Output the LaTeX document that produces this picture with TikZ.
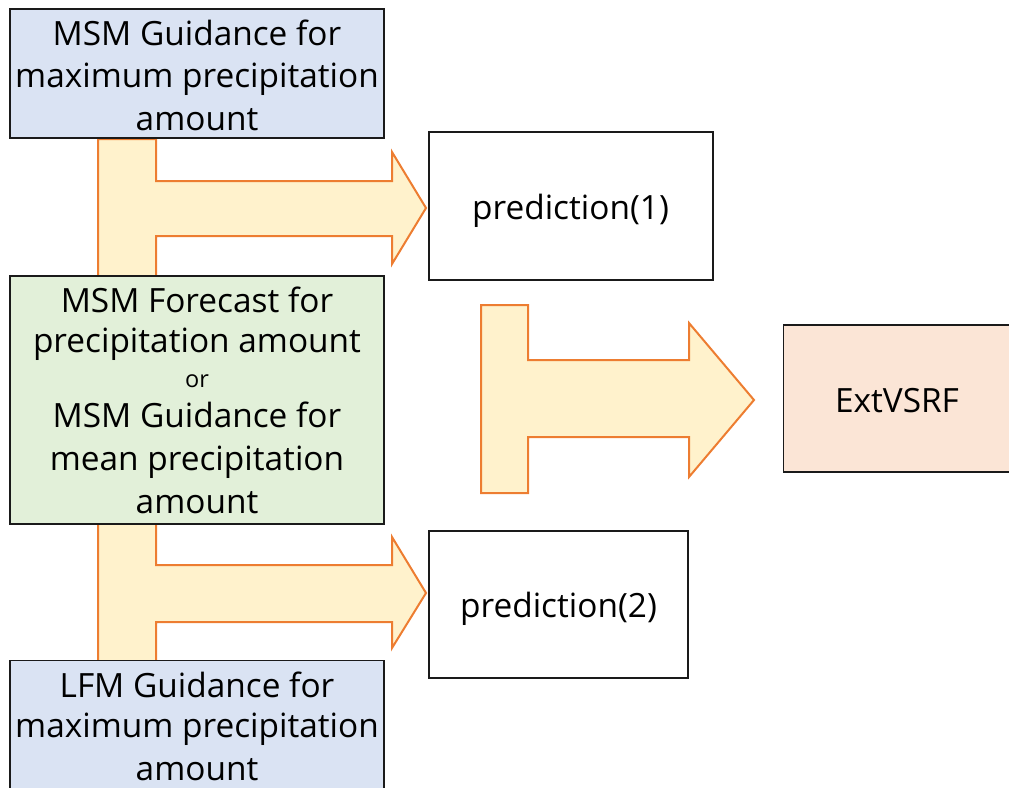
\documentclass[tikz,border=0pt]{standalone}
\usepackage{fontspec}
\setmainfont{Open Sans}
\definecolor{bluefill}{HTML}{DAE3F3}
\definecolor{greenfill}{HTML}{E2F0D9}
\definecolor{peachfill}{HTML}{FBE5D6}
\definecolor{arrowfill}{HTML}{FFF2CC}
\definecolor{arrowline}{HTML}{ED7D31}
\definecolor{boxline}{HTML}{1A1A1A}
\tikzset{
  bigtext/.style={font=\fontsize{33.4}{42.5}\selectfont, align=center, inner sep=0pt},
  box/.style={draw=boxline, line width=1.4pt, rectangle, inner sep=0pt},
  blockarrow/.style={fill=arrowfill, draw=arrowline, line width=2pt, line join=miter},
}
\begin{document}
\begin{tikzpicture}[x=1pt,y=-1pt]
\useasboundingbox (0,0) rectangle (1009,787);
\clip (0,0) rectangle (1009,787);
% block arrows
\draw[blockarrow] (98,139) -- (156,139) -- (156,181) -- (392,181) -- (392,152) -- (426,208)
  -- (392,264) -- (392,236) -- (156,236) -- (156,277) -- (98,277) -- cycle;
\draw[blockarrow] (98,523) -- (156,523) -- (156,565) -- (392,565) -- (392,537) -- (426,593)
  -- (392,648) -- (392,622) -- (156,622) -- (156,661) -- (98,661) -- cycle;
\draw[blockarrow] (481,305) -- (528,305) -- (528,360) -- (689,360) -- (689,323) -- (754,400)
  -- (689,477) -- (689,437) -- (528,437) -- (528,493) -- (481,493) -- cycle;
% boxes
\node[box, fill=bluefill, minimum width=374pt, minimum height=129pt] (msmmax) at (197,73.5) {};
\node[bigtext] (msmmaxtext) at (197,75)
  {MSM Guidance for\\maximum precipitation\\amount};
\node[box, fill=greenfill, minimum width=374pt, minimum height=248pt] (msmmean) at (197,400) {};
\node[bigtext] (msmmeantext) at (197,400.5)
  {MSM Forecast for\\[-2.5pt]precipitation amount\\[-7.2pt]{\fontsize{23.5}{42.5}\selectfont or}\\[-2.8pt]MSM Guidance for\\mean precipitation\\[1.2pt]amount};
\node[box, fill=bluefill, minimum width=374pt, minimum height=140pt, anchor=north] (lfmmax) at (197,660) {};
\node[bigtext] (lfmtext) at (197,726)
  {LFM Guidance for\\[-2pt]maximum precipitation\\amount};
\node[box, minimum width=284pt, minimum height=148pt] (pred1) at (571,206) {};
\node[bigtext, anchor=base] (pred1text) at (570.5,219) {prediction(1)};
\node[box, minimum width=259pt, minimum height=147pt] (pred2) at (558.5,604.5) {};
\node[bigtext, anchor=base] (pred2text) at (558.5,617) {prediction(2)};
\node[box, fill=peachfill, minimum width=260pt, minimum height=147pt, anchor=west] (ext) at (783,398.5) {};
\node[bigtext, anchor=base] (exttext) at (897,412) {ExtVSRF};
\end{tikzpicture}
\end{document}
